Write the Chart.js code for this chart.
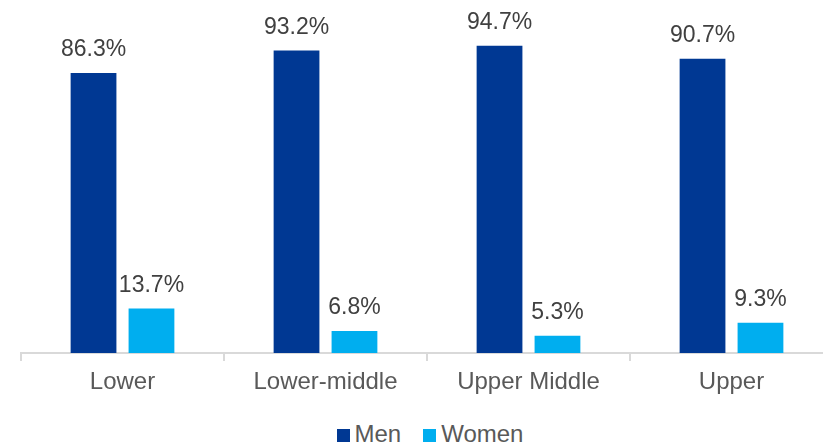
<!DOCTYPE html>
<html>
<head>
<meta charset="utf-8">
<script src="https://cdn.jsdelivr.net/npm/chart.js@4"></script>
<style>
  html, body { margin: 0; padding: 0; background: #fff; overflow: hidden; }
  #wrap { position: relative; width: 860px; height: 445px; }
  #legend { position: absolute; left: 0; top: 420px; width: 860px; text-align: center;
            font-family: 'Liberation Sans', Arial, sans-serif; font-size: 24px; color: #595959; line-height: 28px; }
  #legend span.item { display: inline-block; margin: 0 11px; }
  #legend i { display: inline-block; width: 13px; height: 13px; margin-right: 5px; vertical-align: 0px; }
</style>
</head>
<body>
<div id="wrap">
  <canvas id="grafico" width="860" height="410"></canvas>
  <div id="legend"></div>
</div>
<script>
const categorias = ['Lower', 'Lower-middle', 'Upper Middle', 'Upper'];
const homens = [86.3, 93.2, 94.7, 90.7];
const mulheres = [13.7, 6.8, 5.3, 9.3];
const nomesSeries = ['Men', 'Women'];
const cores = ['#003893', '#00AEEF'];

// rótulos de valor acima das barras
const rotulosPlugin = {
    id: 'rotulos',
    afterDatasetsDraw(chart) {
        const ctx = chart.ctx;
        ctx.save();
        ctx.font = '23px "Liberation Sans", Arial, sans-serif';
        ctx.fillStyle = '#404040';
        ctx.textAlign = 'center';
        ctx.textBaseline = 'alphabetic';
        chart.data.datasets.forEach((ds, i) => {
            chart.getDatasetMeta(i).data.forEach((bar, j) => {
                ctx.fillText(ds.data[j].toFixed(1) + '%', bar.x, bar.y - 17);
            });
        });
        ctx.restore();
    }
};

const ctx = document.getElementById('grafico').getContext('2d');
const grafico = new Chart(ctx, {
    type: 'bar',
    data: {
        labels: categorias,
        datasets: [
            { label: nomesSeries[0], data: homens, backgroundColor: cores[0] },
            { label: nomesSeries[1], data: mulheres, backgroundColor: cores[1] }
        ]
    },
    options: {
        responsive: false,
        animation: false,
        categoryPercentage: 0.571,
        barPercentage: 0.79,
        layout: { padding: { left: 21, right: 27, top: 28.5, bottom: 0 } },
        plugins: {
            legend: { display: false },
            tooltip: { enabled: false }
        },
        scales: {
            x: {
                grid: { drawOnChartArea: false, drawTicks: true, tickLength: 8, color: '#d9d9d9', lineWidth: 2 },
                border: { color: '#d9d9d9', width: 2 },
                ticks: { color: '#595959', font: { family: '"Liberation Sans", Arial, sans-serif', size: 24 }, padding: 7 },
                afterFit: s => { s.height = 57; }
            },
            y: { display: false, min: 0, max: 100 }
        }
    },
    plugins: [rotulosPlugin]
});

// legenda em HTML
const legenda = document.getElementById('legend');
nomesSeries.forEach((nome, i) => {
    const item = document.createElement('span');
    item.className = 'item';
    item.innerHTML = '<i style="background:' + cores[i] + '"></i>' + nome;
    legenda.appendChild(item);
});
</script>
</body>
</html>
